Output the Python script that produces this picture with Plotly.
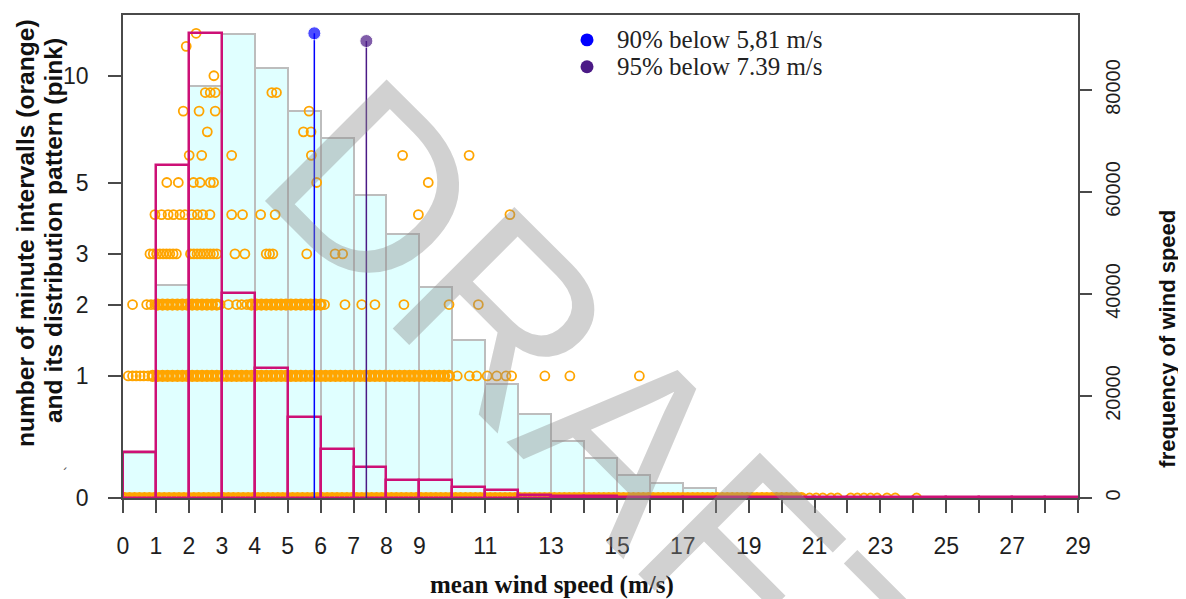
import numpy as np
import plotly.graph_objects as go

# ---------------- data ----------------
bin_left = list(range(29))  # bins 0-1, 1-2, ..., 28-29 (m/s)
wind_freq = [8800, 41700, 80800, 91000, 84400, 75900, 70600, 59500, 51700, 41300,
             30900, 22400, 16500, 11200, 7800, 4600, 3000, 1900, 800, 400,
             200, 100, 60, 30, 20, 10, 5, 5, 5]
pink_pattern = [0.30, 5.61, 13.0, 2.21, 1.09, 0.58, 0.32, 0.19, 0.11, 0.11,
                0.062, 0.046, 0.017, 0.012, 0.009, 0.007, 0.005, 0.005, 0.004, 0.004,
                0.004, 0.004, 0.004, 0.004, 0.004, 0.004, 0.004, 0.004, 0.004]

# orange points: mean wind speed of minute intervals, grouped by count
# (dense runs where single circles merge into a solid band are listed separately)
n0_dense_speeds = [0.05, 0.2, 0.35, 0.5, 0.65, 0.8, 0.95, 1.1, 1.25, 1.4, 1.55, 1.7, 1.85, 2.0,
                   2.15, 2.3, 2.45, 2.6, 2.75, 2.9, 3.05, 3.2, 3.35, 3.5, 3.65, 3.8, 3.95, 4.1,
                   4.25, 4.4, 4.55, 4.7, 4.85, 5.0, 5.15, 5.3, 5.45, 5.6, 5.75, 5.9, 6.05, 6.2,
                   6.35, 6.5, 6.65, 6.8, 6.95, 7.1, 7.25, 7.4, 7.55, 7.7, 7.85, 8.0, 8.15, 8.3,
                   8.45, 8.6, 8.75, 8.9, 9.05, 9.2, 9.35, 9.5, 9.65, 9.8, 9.95, 10.1, 10.25, 10.4,
                   10.55, 10.7, 10.85, 11.0, 11.15, 11.3, 11.45, 11.6, 11.75, 11.9, 12.05, 12.2,
                   12.35, 12.5, 12.65, 12.8, 12.95, 13.1, 13.25, 13.4, 13.55, 13.7, 13.85, 14.0,
                   14.15, 14.3, 14.45, 14.6, 14.75, 14.9, 15.05, 15.2, 15.35, 15.5, 15.65, 15.8,
                   15.95, 16.1, 16.25, 16.4, 16.55, 16.7, 16.85, 17.0, 17.15, 17.3, 17.45, 17.6,
                   17.75, 17.9, 18.05, 18.2, 18.35, 18.5, 18.65, 18.8, 18.95, 19.1, 19.25, 19.4,
                   19.55, 19.7, 19.85, 20.0, 20.15, 20.3, 20.45, 20.6]
n0_speeds = [20.85, 21.05, 21.25, 21.5, 21.7, 22.1, 22.3, 22.5, 22.7, 22.9, 23.2, 23.45, 24.1]
n1_dense_speeds = [0.9, 1.05, 1.2, 1.35, 1.5, 1.65, 1.8, 1.95, 2.1, 2.25, 2.4, 2.55, 2.7, 2.85,
                   3.0, 3.15, 3.3, 3.45, 3.6, 3.75, 3.9, 4.05, 4.2, 4.35, 4.5, 4.65, 4.8, 4.95,
                   5.1, 5.25, 5.4, 5.55, 5.7, 5.85, 6.0, 6.15, 6.3, 6.45, 6.6, 6.75, 6.9, 7.05,
                   7.2, 7.35, 7.5, 7.65, 7.8, 7.95, 8.1, 8.25, 8.4, 8.55, 8.7, 8.85, 9.0, 9.15,
                   9.3, 9.45, 9.6, 9.75, 9.9]
n1_speeds = [0.16, 0.29, 0.4, 0.52, 0.63, 0.76, 10.15, 10.52, 10.74, 11.06, 11.35, 11.63, 11.8,
             12.81, 13.57, 15.68]
n2_dense_speeds = [1.05, 1.2, 1.35, 1.5, 1.65, 1.8, 1.95, 2.1, 2.25, 2.4, 2.55, 2.7, 2.85,
                   3.9, 4.05, 4.2, 4.35, 4.5, 4.65, 4.8, 4.95, 5.1, 5.25, 5.4, 5.55, 5.7, 5.85, 6.0]
n2_speeds = [0.29, 0.72, 0.85, 0.97, 2.95, 3.2, 3.45, 3.6, 3.76, 6.12, 6.74, 7.25, 7.65, 8.53,
             9.9, 10.79]
n3_speeds = [0.82, 0.92, 1.02, 1.12, 1.22, 1.32, 1.42, 1.52, 1.62, 2.05, 2.15, 2.25, 2.35, 2.45,
             2.55, 2.65, 2.75, 2.85, 3.40, 3.70, 4.35, 4.45, 4.55, 5.58, 6.44, 6.67]
n4_speeds = [0.97, 1.17, 1.37, 1.53, 1.73, 1.88, 2.09, 2.26, 2.42, 2.64, 3.30, 3.63, 4.18, 4.62,
             8.97, 11.75]
n5_speeds = [1.33, 1.68, 2.14, 2.34, 2.65, 2.75, 5.88, 9.27]
n6_speeds = [2.01, 2.39, 3.30, 5.72, 8.49, 10.51]
n7_speeds = [2.56, 5.48, 5.71]
n8_speeds = [1.83, 2.31, 2.80, 5.65]
n9_speeds = [2.5, 2.65, 2.8, 4.52, 4.66]
n10_speeds = [2.76]
n12_speeds = [1.92]
n13_speeds = [2.22]

threshold_speeds = [5.81, 7.39]
threshold_heights = [13.0, 12.4]
threshold_labels = ["90% below 5,81 m/s", "95% below 7.39 m/s"]
threshold_colors = ["#0000FF", "#4B1A86"]

x_tick_vals = list(range(30))
x_tick_text = [str(v) if (v < 10 or v % 2 == 1) else "" for v in x_tick_vals]
left_ticks = [0, 1, 2, 3, 5, 10]
right_ticks = [0, 20000, 40000, 60000, 80000]

# ---------------- build ----------------
def collect(groups):
    xs, ns = [], []
    for n, speeds in groups:
        xs += speeds
        ns += [n] * len(speeds)
    return xs, ns

sparse_x, sparse_n = collect([(0, n0_speeds), (1, n1_speeds), (2, n2_speeds), (3, n3_speeds),
                              (4, n4_speeds), (5, n5_speeds), (6, n6_speeds), (7, n7_speeds),
                              (8, n8_speeds), (9, n9_speeds), (10, n10_speeds),
                              (12, n12_speeds), (13, n13_speeds)])
dense_x, dense_n = collect([(0, n0_dense_speeds), (1, n1_dense_speeds), (2, n2_dense_speeds)])

centers = [b + 0.5 for b in bin_left]
T = np.log1p  # left axis uses a log(1+n) scale

AX = "#4a4a4a"
TXT = "#1e1e1e"
ORANGE = "#FFA500"

fig = go.Figure()
fig.add_trace(go.Bar(x=centers, y=wind_freq, width=1, yaxis="y",
                     marker=dict(color="#E0FFFF", line=dict(color="#BDBDBD", width=2)),
                     showlegend=False))
fig.add_trace(go.Scatter(x=dense_x, y=T(np.array(dense_n, dtype=float)), yaxis="y2",
                         mode="markers",
                         marker=dict(symbol="circle-open", size=9, color=ORANGE,
                                     line=dict(width=3.2, color=ORANGE)),
                         showlegend=False))
fig.add_trace(go.Scatter(x=sparse_x, y=T(np.array(sparse_n, dtype=float)), yaxis="y2",
                         mode="markers",
                         marker=dict(symbol="circle-open", size=9, color=ORANGE,
                                     line=dict(width=1.8, color=ORANGE)),
                         showlegend=False))
fig.add_trace(go.Bar(x=centers, y=T(np.array(pink_pattern)), width=1, yaxis="y3",
                     marker=dict(color="rgba(0,0,0,0)", line=dict(color="#CD1076", width=2.5)),
                     showlegend=False))
for s, h, c in zip(threshold_speeds, threshold_heights, threshold_colors):
    fig.add_trace(go.Scatter(x=[s, s], y=[0, T(h)], yaxis="y3", mode="lines+markers",
                             line=dict(color=c, width=1.5),
                             marker=dict(size=[0, 13], color=c),
                             showlegend=False))

# page pixel geometry (the html page adds an 8px body margin)
OFF = 8
L, R, TOP, BOT = 123, 1078, 13, 498
W, H = 1186 - OFF, 599 - OFF
def px(xp):
    return (xp - L) / (R - L)
def py(yp):
    return (BOT - yp) / (BOT - TOP)

left_top = 2.743
right_top = 94700

fig.update_layout(
    width=W, height=H,
    margin=dict(l=L - OFF, r=W - (R - OFF), t=TOP - OFF, b=H - (BOT - OFF), pad=0),
    paper_bgcolor="white", plot_bgcolor="white", barmode="overlay", bargap=0,
    showlegend=False,
    xaxis=dict(range=[0, 29], tickvals=x_tick_vals, ticktext=x_tick_text,
               ticks="outside", ticklen=13, tickwidth=1.5, tickcolor=AX,
               showline=True, linecolor=AX, linewidth=1.5, mirror=True,
               showgrid=False, zeroline=False, ticklabelstandoff=14,
               tickfont=dict(family="Liberation Sans", size=23, color=TXT)),
    yaxis=dict(side="right", range=[0, right_top], tickvals=right_ticks,
               ticktext=[str(v) for v in right_ticks], tickangle=-90,
               ticks="outside", ticklen=12, tickwidth=1.5, tickcolor=AX,
               showline=True, linecolor=AX, linewidth=1.5,
               showgrid=False, zeroline=False, ticklabelstandoff=4,
               tickfont=dict(family="Liberation Sans", size=20, color=TXT)),
    yaxis2=dict(side="left", overlaying="y", range=[0, left_top],
                tickvals=list(T(np.array(left_ticks, dtype=float))),
                ticktext=[str(v) for v in left_ticks],
                ticks="outside", ticklen=13, tickwidth=1.5, tickcolor=AX,
                showline=True, linecolor=AX, linewidth=1.5,
                showgrid=False, zeroline=False, ticklabelstandoff=15,
                tickfont=dict(family="Liberation Sans", size=23, color=TXT)),
    yaxis3=dict(overlaying="y", range=[0, left_top], visible=False),
)

def note(xp, yp, text, family, size, color="#111", angle=0, xanchor="center"):
    return dict(x=px(xp), y=py(yp), xref="paper", yref="paper", showarrow=False,
                xanchor=xanchor, yanchor="middle", textangle=angle, text=text,
                font=dict(family=family, size=size, color=color))

ann = [
    note(552, 585, "<b>mean wind speed (m/s)</b>", "Liberation Serif", 25),
    note(25, 232, "<b>number of minute intervalls (orange)</b>", "Liberation Sans", 24.6, angle=-90),
    note(53, 230, "<b>and its distribution pattern (pink)</b>", "Liberation Sans", 24.6, angle=-90),
    note(1168, 338, "<b>frequency of wind speed</b>", "Liberation Sans", 22, angle=-90),
    note(64, 462, "ˏ", "DejaVu Sans", 14, color="#555"),
]
shapes = []
for i, (lab, c) in enumerate(zip(threshold_labels, threshold_colors)):
    yc = 38 + 27 * i
    ann.append(note(615, yc, lab, "Liberation Serif", 25, color="#222", xanchor="left"))
    shapes.append(dict(type="circle", xref="paper", yref="paper",
                       x0=px(587 - 6.5), x1=px(587 + 6.5), y0=py(yc + 6.5), y1=py(yc - 6.5),
                       fillcolor=c, line=dict(width=0)))
ann.append(note(606, 419, "DRAFT", "Liberation Sans", 250, color="rgba(140,140,140,0.40)", angle=45))
fig.update_layout(annotations=ann, shapes=shapes)

fig.write_html("out.html")
